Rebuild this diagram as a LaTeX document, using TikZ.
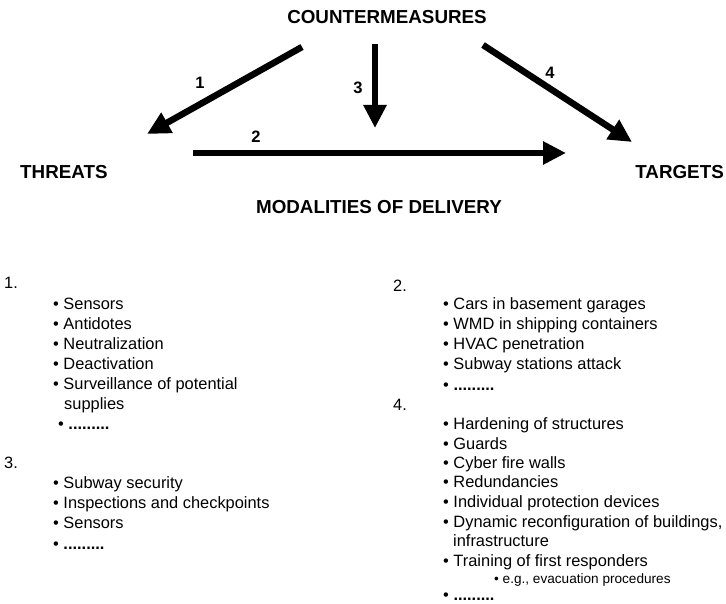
\documentclass[tikz,border=0pt]{standalone}
\usepackage{fontspec}
\setmainfont{Liberation Sans}
\usetikzlibrary{arrows.meta}
\tikzset{
  head/.style={font=\bfseries\fontsize{18.8}{22}\selectfont, inner sep=0pt},
  lbl/.style={font=\bfseries\fontsize{16.5}{20}\selectfont, inner sep=0pt},
  itm/.style={anchor=base west, inner sep=0pt, font=\fontsize{16.4}{19.7}\selectfont},
  small/.style={anchor=base west, inner sep=0pt, font=\fontsize{13.6}{16}\selectfont},
  bigarrow/.style={line width=6.5pt, -{Triangle[length=23pt,width=22pt]}},
}
\newcommand\dotsline{\textbf{.........}}
\begin{document}
\begin{tikzpicture}[x=1pt,y=-1pt]
\useasboundingbox (0,0) rectangle (726,604);
% headings
\node[head] (cm) at (387,17) {COUNTERMEASURES};
\node[head,anchor=west] (th) at (20,172) {THREATS};
\node[head,anchor=east] (tg) at (724,172) {TARGETS};
\node[head] (md) at (379,207) {MODALITIES OF DELIVERY};
% arrow endpoints
\coordinate (a1s) at (302,47);  \coordinate (a1e) at (147,134);
\coordinate (a2s) at (193,153); \coordinate (a2e) at (566,153);
\coordinate (a3s) at (375,44);  \coordinate (a3e) at (375,128);
\coordinate (a4s) at (483,45);  \coordinate (a4e) at (632,142);
\draw[bigarrow] (a1s) -- (a1e);
\draw[bigarrow] (a2s) -- (a2e);
\draw[bigarrow] (a3s) -- (a3e);
\draw[bigarrow] (a4s) -- (a4e);
\node[lbl] (l1) at (200,83) {1};
\node[lbl] (l2) at (256,137) {2};
\node[lbl] (l3) at (358,88) {3};
\node[lbl] (l4) at (550,73) {4};
% left list 1
\node[itm] (n1) at (4,289) {1.};
\node[itm] (i11) at (53,309) {\textbullet\ Sensors};
\node[itm] (i12) at (53,329) {\textbullet\ Antidotes};
\node[itm] (i13) at (53,349) {\textbullet\ Neutralization};
\node[itm] (i14) at (53,369) {\textbullet\ Deactivation};
\node[itm] (i15) at (53,389) {\textbullet\ Surveillance of potential};
\node[itm] (i16) at (64,409) {supplies};
\node[itm] (i17) at (58,429) {\textbullet\ \dotsline};
% left list 3
\node[itm] (n3) at (4,468) {3.};
\node[itm] (i31) at (53,488) {\textbullet\ Subway security};
\node[itm] (i32) at (53,508) {\textbullet\ Inspections and checkpoints};
\node[itm] (i33) at (53,528) {\textbullet\ Sensors};
\node[itm] (i34) at (53,549) {\textbullet\ \dotsline};
% right list 2
\node[itm] (n2) at (393,291) {2.};
\node[itm] (i21) at (443,309) {\textbullet\ Cars in basement garages};
\node[itm] (i22) at (443,329) {\textbullet\ WMD in shipping containers};
\node[itm] (i23) at (443,349) {\textbullet\ HVAC penetration};
\node[itm] (i24) at (443,369) {\textbullet\ Subway stations attack};
\node[itm] (i25) at (443,390) {\textbullet\ \dotsline};
% right list 4
\node[itm] (n4) at (393,410) {4.};
\node[itm] (i41) at (443,429) {\textbullet\ Hardening of structures};
\node[itm] (i42) at (443,449) {\textbullet\ Guards};
\node[itm] (i43) at (443,468) {\textbullet\ Cyber fire walls};
\node[itm] (i44) at (443,487) {\textbullet\ Redundancies};
\node[itm] (i45) at (443,507) {\textbullet\ Individual protection devices};
\node[itm] (i46) at (443,527) {\textbullet\ Dynamic reconfiguration of buildings,};
\node[itm] (i47) at (453,546) {infrastructure};
\node[itm] (i48) at (443,566) {\textbullet\ Training of first responders};
\node[small] (i49) at (494,583) {\textbullet\ e.g., evacuation procedures};
\node[itm] (i40) at (443,600) {\textbullet\ \dotsline};
\end{tikzpicture}
\end{document}
